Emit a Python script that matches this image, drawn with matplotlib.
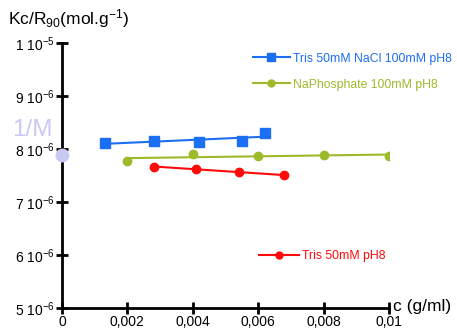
import numpy as np
import matplotlib
matplotlib.use("Agg")
import matplotlib.pyplot as plt
from matplotlib.ticker import FixedLocator

plt.rcParams['font.family'] = ['Liberation Sans', 'DejaVu Sans']
plt.rcParams['mathtext.fontset'] = 'custom'
plt.rcParams['mathtext.rm'] = 'Liberation Sans'

# data
c_nacl = [0.0013, 0.0028, 0.0042, 0.0055, 0.0062]
kc_nacl = [8.11e-6, 8.16e-6, 8.13e-6, 8.16e-6, 8.30e-6]
c_phos = [0.0020, 0.0040, 0.0060, 0.0080, 0.0100]
kc_phos = [7.78e-6, 7.90e-6, 7.87e-6, 7.89e-6, 7.87e-6]
c_tris = [0.0028, 0.0041, 0.0054, 0.0068]
kc_tris = [7.67e-6, 7.62e-6, 7.56e-6, 7.51e-6]
inv_m = 7.89e-6

xticks = [0, 0.002, 0.004, 0.006, 0.008, 0.01]
xlabels = ['0', '0,002', '0,004', '0,006', '0,008', '0,01']
yticks = [5e-6, 6e-6, 7e-6, 8e-6, 9e-6, 1e-5]
ylabels = [r'5 10$\mathregular{^{-6}}$', r'6 10$\mathregular{^{-6}}$', r'7 10$\mathregular{^{-6}}$',
           r'8 10$\mathregular{^{-6}}$', r'9 10$\mathregular{^{-6}}$', r'1 10$\mathregular{^{-5}}$']

blue = '#1c6ef2'
green = '#9dba2b'
red = '#ff0a0a'

fig = plt.figure(figsize=(4.57, 3.31), dpi=100)
ax = fig.add_axes([0.1357, 0.0695, 0.7155, 0.8005])


def series(x, y, color, marker, ms, label):
    x = np.array(x)
    y = np.array(y)
    k, b = np.polyfit(x, y, 1)
    xs = np.array([x.min(), x.max()])
    ax.plot(xs, k * xs + b, color=color, lw=1.5, zorder=2)
    ax.plot(x, y, ls='none', marker=marker, ms=ms, color=color, zorder=3)
    h, = ax.plot([], [], color=color, lw=1.5, marker=marker, ms=ms - 1, label=label)
    return h


h1 = series(c_nacl, kc_nacl, blue, 's', 6.5, 'Tris 50mM NaCl 100mM pH8')
h2 = series(c_phos, kc_phos, green, 'o', 6, 'NaPhosphate 100mM pH8')
h3 = series(c_tris, kc_tris, red, 'o', 6, 'Tris 50mM pH8')

ax.plot([0], [inv_m], 'o', ms=9, color='#c9c9f4', clip_on=False, zorder=4)
fig.text(0.071, 0.575, '1/M', color='#c9c9f4', fontsize=17.5, ha='center', va='bottom')

ax.set_xlim(0, 0.01)
ax.set_ylim(5e-6, 1e-5)
ax.xaxis.set_major_locator(FixedLocator(xticks))
ax.set_xticklabels(xlabels)
ax.yaxis.set_major_locator(FixedLocator(yticks))
ax.set_yticklabels(ylabels)
ax.tick_params(direction='inout', length=8, width=2, labelsize=10, pad=1)

for s in ['top', 'right']:
    ax.spines[s].set_visible(False)
for s in ['left', 'bottom']:
    ax.spines[s].set_linewidth(2)

fig.text(0.018, 0.925, r'Kc/R$\mathregular{_{90}}$(mol.g$\mathregular{^{-1}}$)', fontsize=12.5)
fig.text(0.86, 0.06, 'c (g/ml)', fontsize=12.5)

leg1 = ax.legend(handles=[h1, h2], loc='upper left', bbox_to_anchor=(0.55, 1.005),
                 frameon=False, fontsize=8.8, labelcolor='linecolor', handlelength=3.0,
                 handletextpad=0.3, labelspacing=1.15, numpoints=1)
ax.add_artist(leg1)
ax.legend(handles=[h3], loc='upper left', bbox_to_anchor=(0.57, 0.26),
          frameon=False, fontsize=8.8, labelcolor='linecolor', handlelength=3.2,
          handletextpad=0.3, numpoints=1)

fig.savefig('out.png', dpi=100)
